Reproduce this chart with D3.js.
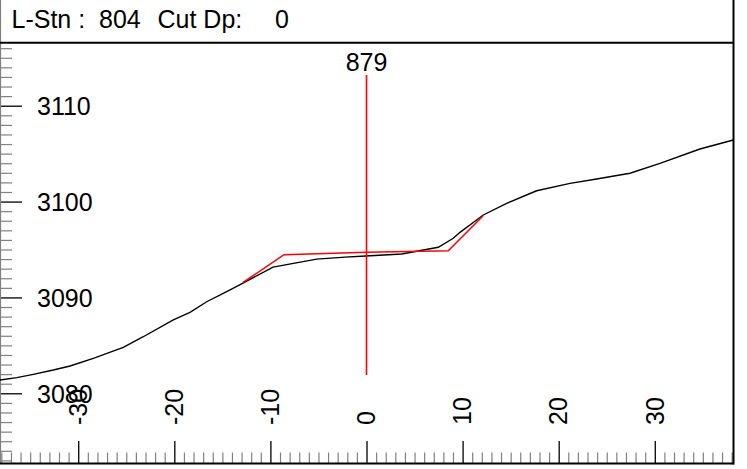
<!DOCTYPE html>
<html><head><meta charset="utf-8">
<script src="https://cdn.jsdelivr.net/npm/d3@7"></script>
<style>
html,body{margin:0;padding:0;background:#fff;}
svg{display:block;font-family:"Liberation Sans",Arial,sans-serif;}
</style></head>
<body>
<svg id="c" width="747" height="469"></svg>
<script>
// ---- data ----
const headerStation = "804";
const headerCutDepth = "0";
const centerLabel = "879";
const centerOffset = 0;
const xTickValues = [-30, -20, -10, 0, 10, 20, 30];
const yTickValues = [3080, 3090, 3100, 3110];
// existing ground profile (offset, elevation)
const groundOffsets = [-38.14, -36.40, -34.67, -32.59, -30.85, -28.43, -25.31, -23.23, -20.10, -18.37, -16.63, -14.55, -12.85, -9.73, -5.18, -2.24, -0.08, 3.66, 7.47, 9.03, 9.73, 12.15, 14.59, 17.71, 21.18, 23.95, 27.42, 30.54, 34.70, 38.17];
const groundElev = [3081.39, 3081.63, 3081.98, 3082.43, 3082.85, 3083.65, 3084.80, 3085.90, 3087.65, 3088.45, 3089.55, 3090.60, 3091.50, 3093.17, 3094.00, 3094.21, 3094.32, 3094.53, 3095.23, 3096.17, 3096.79, 3098.60, 3099.82, 3101.13, 3101.90, 3102.35, 3102.95, 3103.99, 3105.48, 3106.42];
// design section
const designOffsets = [-12.88, -8.58, 0, 8.51, 12.12];
const designElev = [3091.54, 3094.46, 3094.71, 3094.87, 3098.49];
// centre line vertical extent (elevations)
const centerLineElev = [3081.9, 3113.2];

(function () {
const svg = d3.select("#c");
const W = 733, plotTop = 43, plotBottom = 463;
const x = d3.scaleLinear().domain([-38.14, 38.14]).range([0, W]);
const y = d3.scaleLinear().domain([3072.73, 3116.54]).range([plotBottom, plotTop]);

// header
const hdr = svg.append("g").attr("font-size", 25).attr("fill", "#000");
hdr.append("text").attr("x", 11.5).attr("y", 28).text("L-Stn :");
hdr.append("text").attr("x", 99).attr("y", 28).text(headerStation);
hdr.append("text").attr("x", 157.5).attr("y", 28).text("Cut Dp:");
hdr.append("text").attr("x", 275).attr("y", 28).text(headerCutDepth);

// y minor ticks
const yMinor = d3.range(3073, 3117).filter(v => v % 10 !== 0);
const gy1 = svg.append("g").call(d3.axisRight(y).tickValues(yMinor).tickSize(12).tickFormat(""));
gy1.select(".domain").remove();
gy1.selectAll("line").attr("stroke", "#808080").attr("stroke-width", 1.2);

const gy2 = svg.append("g").call(d3.axisRight(y).tickValues(yTickValues).tickSize(22).tickPadding(15).tickFormat(d3.format("d")));
gy2.select(".domain").remove();
gy2.selectAll("line").attr("stroke", "#000").attr("stroke-width", 1.3);
gy2.selectAll("text").attr("font-size", 25).attr("font-family", "Liberation Sans, Arial, sans-serif").attr("fill", "#000").attr("dy", "0.35em");

// x minor ticks
const xMinor = d3.range(-38, 39).filter(v => v % 10 !== 0);
const gx1 = svg.append("g").attr("transform", `translate(0,${plotBottom})`)
  .call(d3.axisTop(x).tickValues(xMinor).tickSize(10.5).tickFormat(""));
gx1.select(".domain").remove();
gx1.selectAll("line").attr("stroke", "#808080").attr("stroke-width", 1.2);

const gx2 = svg.append("g").attr("transform", `translate(0,${plotBottom})`)
  .call(d3.axisTop(x).tickValues(xTickValues).tickSize(22).tickFormat(""));
gx2.select(".domain").remove();
gx2.selectAll("line").attr("stroke", "#000").attr("stroke-width", 1.3);

// x labels rotated
svg.append("g").selectAll("text").data(xTickValues).join("text")
  .attr("transform", d => `translate(${x(d)},425) rotate(-90)`)
  .attr("dy", "0.35em").attr("font-size", 25).attr("fill", "#000")
  .text(d => d);

// frame lines
svg.append("line").attr("x1", 0.5).attr("x2", 0.5).attr("y1", 0).attr("y2", plotBottom).attr("stroke", "#808080").attr("stroke-width", 1.2);
svg.append("line").attr("x1", 0).attr("x2", W + 1).attr("y1", 42.7).attr("y2", 42.7).attr("stroke", "#000").attr("stroke-width", 2);
svg.append("line").attr("x1", 0).attr("x2", W + 1).attr("y1", plotBottom + 0.5).attr("y2", plotBottom + 0.5).attr("stroke", "#000").attr("stroke-width", 2);
svg.append("line").attr("x1", W + 0.5).attr("x2", W + 0.5).attr("y1", 0).attr("y2", plotBottom + 1.5).attr("stroke", "#000").attr("stroke-width", 2);

// ground line
const line = d3.line().x(d => x(d[0])).y(d => y(d[1]));
svg.append("path").datum(d3.zip(groundOffsets, groundElev)).attr("d", line)
  .attr("fill", "none").attr("stroke", "#000").attr("stroke-width", 1.4);

// design line
svg.append("path").datum(d3.zip(designOffsets, designElev)).attr("d", line)
  .attr("fill", "none").attr("stroke", "#ff0000").attr("stroke-width", 1.5);

// centre line
svg.append("line").attr("x1", x(centerOffset)).attr("x2", x(centerOffset))
  .attr("y1", y(centerLineElev[0])).attr("y2", y(centerLineElev[1]))
  .attr("stroke", "#ff0000").attr("stroke-width", 1.6);
svg.append("text").attr("x", x(centerOffset)).attr("y", 70.5).attr("text-anchor", "middle")
  .attr("font-size", 25).attr("fill", "#000").text(centerLabel);
})();
</script>
</body></html>
